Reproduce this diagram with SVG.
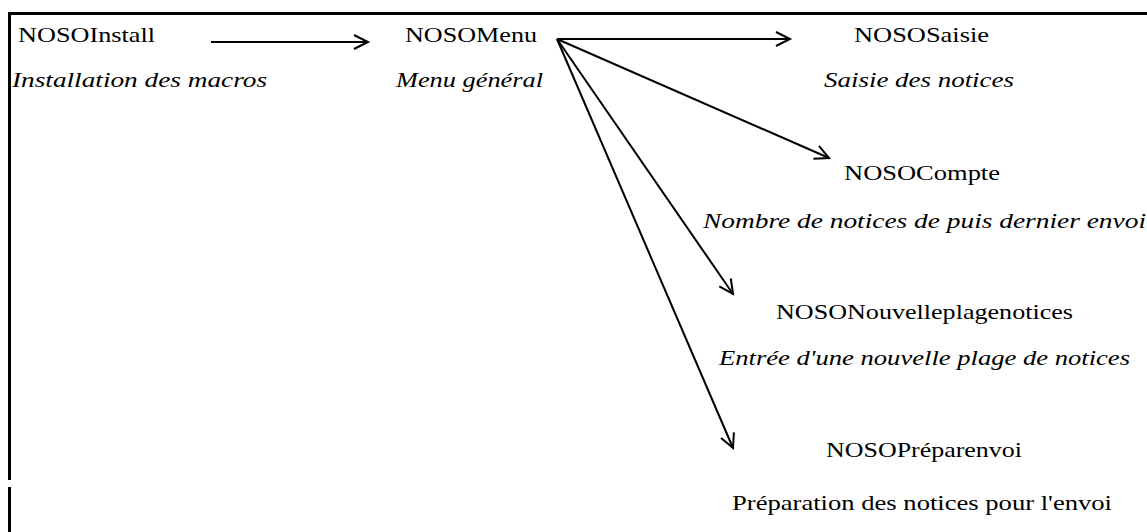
<svg xmlns="http://www.w3.org/2000/svg" width="1147" height="532" viewBox="0 0 1147 532">
<style>
.t{font-family:"Liberation Serif","Times New Roman",serif;font-size:21.5px;fill:#000}
.i{font-style:italic}
.c{fill:none;stroke:#000;stroke-width:2}
.b{fill:none;stroke:#000;stroke-width:3}
</style>
<defs>
<marker id="ah" markerUnits="userSpaceOnUse" markerWidth="20" markerHeight="20" refX="15" refY="8" orient="auto">
<path d="M1,1 L15,8 L1,15" fill="none" stroke="#000" stroke-width="2"/>
</marker>
</defs>
<g id="frame">
<path class="b" d="M1147,13.5 H9.5 V480"/>
<path class="b" d="M9.5,487 V532"/>
</g>
<g id="connectors">
<line class="c" x1="211" y1="42" x2="368" y2="42" marker-end="url(#ah)"/>
<line class="c" x1="557" y1="39" x2="790" y2="39" marker-end="url(#ah)"/>
<line class="c" x1="557" y1="39" x2="829" y2="158" marker-end="url(#ah)"/>
<line class="c" x1="557" y1="39" x2="733" y2="294" marker-end="url(#ah)"/>
<line class="c" x1="557" y1="39" x2="733" y2="448" marker-end="url(#ah)"/>
</g>
<g id="install">
<text class="t" x="18" y="42" textLength="137" lengthAdjust="spacingAndGlyphs">NOSOInstall</text>
<text class="t i" x="12" y="87" textLength="255" lengthAdjust="spacingAndGlyphs">Installation des macros</text>
</g>
<g id="menu">
<text class="t" x="405" y="42" textLength="132" lengthAdjust="spacingAndGlyphs">NOSOMenu</text>
<text class="t i" x="396" y="87" textLength="147" lengthAdjust="spacingAndGlyphs">Menu général</text>
</g>
<g id="saisie">
<text class="t" x="854" y="42" textLength="135" lengthAdjust="spacingAndGlyphs">NOSOSaisie</text>
<text class="t i" x="824" y="87" textLength="190" lengthAdjust="spacingAndGlyphs">Saisie des notices</text>
</g>
<g id="compte">
<text class="t" x="844" y="180" textLength="156" lengthAdjust="spacingAndGlyphs">NOSOCompte</text>
<text class="t i" x="703" y="228" textLength="443" lengthAdjust="spacingAndGlyphs">Nombre de notices de puis dernier envoi</text>
</g>
<g id="nouvelle">
<text class="t" x="776" y="319" textLength="297" lengthAdjust="spacingAndGlyphs">NOSONouvelleplagenotices</text>
<text class="t i" x="719" y="365" textLength="411" lengthAdjust="spacingAndGlyphs">Entrée d'une nouvelle plage de notices</text>
</g>
<g id="prepar">
<text class="t" x="826" y="457" textLength="196" lengthAdjust="spacingAndGlyphs">NOSOPréparenvoi</text>
<text class="t" x="732" y="510" textLength="380" lengthAdjust="spacingAndGlyphs">Préparation des notices pour l'envoi</text>
</g>
</svg>
